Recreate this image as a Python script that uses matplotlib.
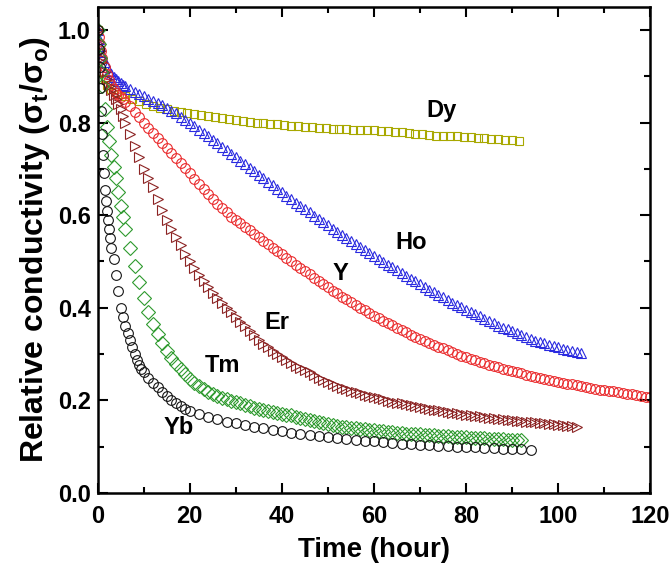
import matplotlib
matplotlib.use("Agg")
import matplotlib.pyplot as plt
from matplotlib.ticker import MultipleLocator

plt.rcParams['font.family'] = ['Liberation Sans', 'DejaVu Sans']
plt.rcParams['font.weight'] = 'bold'
plt.rcParams['mathtext.default'] = 'regular'

# sampling times (hour): grid A for Ho, Y, Er, Tm
time_a = [0, 0.25, 0.5, 0.75, 1, 1.5, 2, 2.5, 3, 3.5, 4, 4.5, 5, 5.5, 6,
          7, 8, 9, 10, 11, 12, 13, 14, 15, 16, 17, 18, 19, 20,
          21, 22, 23, 24, 25, 26, 27, 28, 29, 30, 31, 32, 33, 34, 35, 36,
          37, 38, 39, 40, 41, 42, 43, 44, 45, 46, 47, 48, 49, 50, 51, 52,
          53, 54, 55, 56, 57, 58, 59, 60, 61, 62, 63, 64, 65, 66, 67, 68,
          69, 70, 71, 72, 73, 74, 75, 76, 77, 78, 79, 80, 81, 82, 83, 84,
          85, 86, 87, 88, 89, 90, 91, 92, 93, 94, 95, 96, 97, 98, 99, 100,
          101, 102, 103, 104, 105, 106, 107, 108, 109, 110, 111, 112, 113,
          114, 115, 116, 117, 118, 119, 120]

# grid B for Yb
time_b = [0, 0.2, 0.4, 0.6, 0.8, 1.0, 1.2, 1.4, 1.6, 1.8, 2.0, 2.25, 2.5,
          2.75, 3, 3.5, 4, 4.5, 5, 5.5, 6, 6.5, 7, 7.5, 8, 8.5, 9, 9.5, 10,
          11, 12, 13, 14, 15, 16, 17, 18, 19, 20,
          22, 24, 26, 28, 30, 32, 34, 36, 38, 40, 42, 44, 46, 48, 50,
          52, 54, 56, 58, 60, 62, 64, 66, 68, 70, 72, 74, 76, 78, 80,
          82, 84, 86, 88, 90, 92, 94]

# grid C for Dy
time_c = [0, 0.5, 1, 1.5, 2, 3, 4, 5, 6,
          7.5, 9, 10.5, 12, 13.5, 15, 16.5, 18, 19.5, 21, 22.5, 24, 25.5,
          27, 28.5, 30, 31.5, 33, 34.5, 36, 37.5, 39, 40.5, 42, 43.5, 45,
          46.5, 48, 49.5, 51, 52.5, 54, 55.5, 57, 58.5, 60, 61.5, 63, 64.5,
          66, 67.5, 69, 70.5, 72, 73.5, 75, 76.5, 78, 79.5, 81, 82.5, 84,
          85.5, 87, 88.5, 90, 91.5]

# relative conductivity sigma_t / sigma_o
dy = [1.0, 0.95, 0.912, 0.895, 0.882, 0.872, 0.867, 0.862, 0.858,
      0.852, 0.846, 0.841, 0.836, 0.832, 0.829, 0.826, 0.823, 0.821, 0.818,
      0.816, 0.814, 0.812, 0.81, 0.808, 0.806, 0.804, 0.802, 0.8, 0.799,
      0.797, 0.796, 0.795, 0.793, 0.792, 0.791, 0.790, 0.789, 0.788, 0.787,
      0.787, 0.786, 0.785, 0.784, 0.784, 0.783, 0.782, 0.781, 0.780, 0.779,
      0.777, 0.776, 0.775, 0.773, 0.772, 0.772, 0.771, 0.770, 0.769, 0.768,
      0.767, 0.766, 0.765, 0.764, 0.763, 0.762, 0.760]

yb = [1.0, 0.96, 0.92, 0.875, 0.825, 0.775, 0.73, 0.69, 0.655, 0.63, 0.61,
      0.59, 0.57, 0.55, 0.53, 0.505, 0.47, 0.435, 0.40, 0.38, 0.36, 0.345,
      0.33, 0.315, 0.30, 0.288, 0.277, 0.268, 0.26,
      0.248, 0.238, 0.228, 0.218, 0.209, 0.201, 0.194, 0.188, 0.182, 0.177,
      0.170, 0.164, 0.159, 0.154, 0.150, 0.146, 0.142, 0.139, 0.136, 0.133,
      0.130, 0.127, 0.124, 0.122, 0.120, 0.118, 0.116, 0.114, 0.112, 0.111,
      0.109, 0.108, 0.106, 0.105, 0.104, 0.103, 0.102, 0.101, 0.100, 0.099,
      0.098, 0.097, 0.096, 0.095, 0.094, 0.094, 0.093]

ho = [1.0, 0.98, 0.965, 0.952, 0.942, 0.93, 0.92, 0.912, 0.905, 0.899, 0.894,
      0.89, 0.886, 0.882, 0.879,
      0.873, 0.867, 0.862, 0.857, 0.852, 0.847, 0.842, 0.837, 0.832, 0.826,
      0.82, 0.813, 0.806, 0.799,
      0.792, 0.785, 0.777, 0.770, 0.762, 0.755, 0.747, 0.740, 0.732, 0.725,
      0.717, 0.710, 0.702, 0.695, 0.687, 0.680, 0.672, 0.665, 0.657, 0.650,
      0.642, 0.635, 0.627, 0.620, 0.613, 0.606, 0.599, 0.592, 0.585, 0.578,
      0.571, 0.564, 0.557, 0.551, 0.544, 0.538, 0.531, 0.525, 0.518, 0.512,
      0.505, 0.499, 0.493, 0.487, 0.481, 0.475, 0.469, 0.463, 0.457, 0.451,
      0.445, 0.439, 0.433, 0.428, 0.422, 0.417, 0.411, 0.406, 0.401, 0.396,
      0.391, 0.386, 0.381, 0.376, 0.371, 0.366, 0.361, 0.357, 0.353, 0.349,
      0.345, 0.341, 0.337, 0.333, 0.329, 0.326, 0.323, 0.320, 0.317, 0.314,
      0.311, 0.309, 0.306, 0.304, 0.302]

y_ = [1.0, 0.985, 0.97, 0.955, 0.94, 0.92, 0.905, 0.893, 0.882, 0.872, 0.865,
      0.86, 0.855, 0.85, 0.845,
      0.835, 0.823, 0.811, 0.80, 0.789, 0.778, 0.767, 0.756, 0.745, 0.734,
      0.723, 0.712, 0.701, 0.690,
      0.679, 0.668, 0.657, 0.646, 0.635, 0.625, 0.615, 0.606, 0.597, 0.589,
      0.582, 0.575, 0.567, 0.560, 0.552, 0.545, 0.537, 0.530, 0.522, 0.515,
      0.507, 0.500, 0.493, 0.486, 0.479, 0.472, 0.465, 0.458, 0.451, 0.444,
      0.437, 0.431, 0.424, 0.418, 0.412, 0.406, 0.400, 0.394, 0.388, 0.383,
      0.377, 0.372, 0.367, 0.362, 0.357, 0.352, 0.347, 0.342, 0.337, 0.333,
      0.328, 0.324, 0.320, 0.316, 0.312, 0.308, 0.304, 0.300, 0.296, 0.293,
      0.290, 0.287, 0.283, 0.280, 0.277, 0.274, 0.271, 0.268, 0.265, 0.263,
      0.260, 0.258, 0.255, 0.253, 0.250, 0.248, 0.246, 0.244, 0.242, 0.240,
      0.238, 0.236, 0.234, 0.232, 0.230, 0.229, 0.227, 0.225, 0.223, 0.222,
      0.220, 0.219, 0.217, 0.216, 0.214, 0.213, 0.211, 0.210, 0.208, 0.207]

er = [1.0, 0.975, 0.955, 0.94, 0.93, 0.91, 0.895, 0.88, 0.87, 0.86, 0.85,
      0.84, 0.83, 0.815, 0.80,
      0.775, 0.75, 0.725, 0.70, 0.68, 0.66, 0.635, 0.612, 0.59, 0.57, 0.552,
      0.535, 0.517, 0.50,
      0.485, 0.470, 0.457, 0.445, 0.432, 0.420, 0.410, 0.400, 0.390, 0.380,
      0.370, 0.360, 0.350, 0.340, 0.331, 0.322, 0.314, 0.307, 0.300, 0.294,
      0.287, 0.281, 0.275, 0.270, 0.265, 0.260, 0.254, 0.249, 0.244, 0.239,
      0.235, 0.231, 0.227, 0.224, 0.221, 0.218, 0.215, 0.212, 0.209, 0.207,
      0.204, 0.202, 0.199, 0.197, 0.195, 0.193, 0.191, 0.189, 0.187, 0.185,
      0.183, 0.181, 0.179, 0.178, 0.176, 0.175, 0.173, 0.172, 0.170, 0.169,
      0.167, 0.166, 0.165, 0.164, 0.162, 0.161, 0.160, 0.159, 0.158, 0.157,
      0.156, 0.155, 0.154, 0.153, 0.152, 0.151, 0.150, 0.149, 0.148, 0.147,
      0.146, 0.145, 0.144, 0.143]

tm = [1.0, 0.97, 0.94, 0.91, 0.88, 0.83, 0.79, 0.76, 0.73, 0.705, 0.68,
      0.65, 0.62, 0.595, 0.57,
      0.53, 0.49, 0.455, 0.42, 0.39, 0.365, 0.343, 0.323, 0.307, 0.292, 0.279,
      0.267, 0.256, 0.246,
      0.238, 0.230, 0.224, 0.218, 0.213, 0.209, 0.205, 0.202, 0.199, 0.196,
      0.193, 0.190, 0.187, 0.184, 0.181, 0.179, 0.177, 0.175, 0.173, 0.171,
      0.169, 0.167, 0.164, 0.162, 0.159, 0.157, 0.155, 0.153, 0.151, 0.149,
      0.147, 0.145, 0.143, 0.142, 0.140, 0.139, 0.138, 0.137, 0.136, 0.135,
      0.134, 0.133, 0.132, 0.131, 0.130, 0.129, 0.128, 0.128, 0.127, 0.126,
      0.125, 0.125, 0.124, 0.123, 0.122, 0.122, 0.121, 0.121, 0.120, 0.120,
      0.119, 0.119, 0.118, 0.118, 0.117, 0.117, 0.116, 0.116, 0.115, 0.115,
      0.114, 0.114]

# name, times, values, marker, colour, marker size, label position
series = [
    ("Dy", time_c, dy, "s", "#a8a800", 6.0, (74.6, 0.827)),
    ("Ho", time_a, ho, "^", "#2a2ae0", 7.5, (68.0, 0.541)),
    ("Y", time_a, y_, "o", "#ea2a2c", 7.0, (52.8, 0.474)),
    ("Er", time_a, er, ">", "#8c2424", 7.5, (39.0, 0.368)),
    ("Tm", time_a, tm, "D", "#2e9a2e", 6.8, (27.0, 0.275)),
    ("Yb", time_b, yb, "o", "#151515", 7.0, (17.5, 0.141)),
]

fig = plt.figure(figsize=(6.69, 5.75), dpi=100)
ax = fig.add_axes([0.146, 0.143, 0.826, 0.845])

for name, tt, vals, mk, col, ms, (lx, ly) in series:
    ax.plot(tt[:len(vals)], vals, linestyle="none", marker=mk,
            markersize=ms, markerfacecolor="none", markeredgecolor=col,
            markeredgewidth=0.8)
    ax.text(lx, ly, name, fontsize=17, fontweight="bold",
            ha="center", va="center")

ax.set_xlim(0, 120)
ax.set_ylim(0, 1.05)
ax.xaxis.set_major_locator(MultipleLocator(20))
ax.xaxis.set_minor_locator(MultipleLocator(10))
ax.yaxis.set_major_locator(MultipleLocator(0.2))
ax.yaxis.set_minor_locator(MultipleLocator(0.1))
ax.yaxis.set_major_formatter(plt.FormatStrFormatter("%.1f"))

ax.tick_params(which="both", direction="in", top=True, right=True,
               width=1.5, labelsize=17)
ax.tick_params(which="major", length=7)
ax.tick_params(which="minor", length=4)
ax.tick_params(axis="x", pad=9)
ax.tick_params(axis="y", pad=5)
for sp in ax.spines.values():
    sp.set_linewidth(1.8)

ax.set_xlabel("Time (hour)", fontsize=20, fontweight="bold", labelpad=6)
ax.set_ylabel(r"Relative conductivity ($\sigma_t$/$\sigma_o$)", fontsize=23,
              fontweight="bold", labelpad=4)

fig.savefig("out.png", dpi=100)
